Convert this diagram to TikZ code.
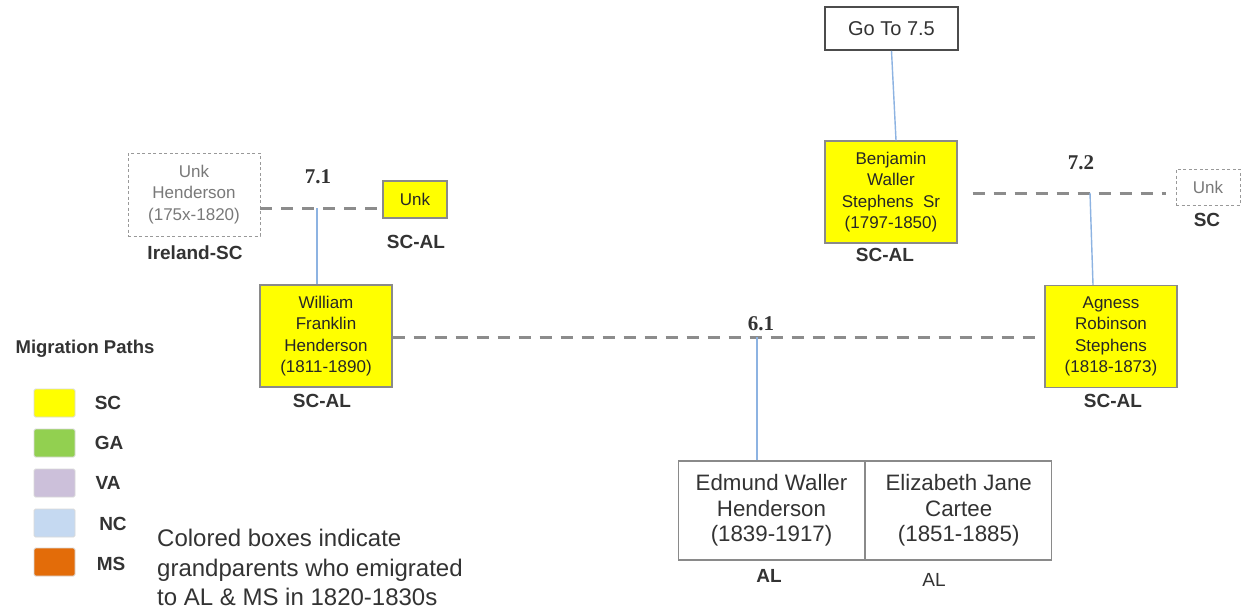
\documentclass[tikz,border=0pt]{standalone}
\usepackage{fontspec}
\setmainfont{Liberation Sans}
\newfontfamily\gennumfont{Liberation Serif}
\usetikzlibrary{positioning}
\definecolor{boxyellow}{HTML}{FFFF00}
\definecolor{boxgray}{HTML}{8A8A8A}
\definecolor{bloodblue}{HTML}{8DB3E2}
\definecolor{uniongray}{HTML}{8C8C8C}
\definecolor{inkgray}{HTML}{333333}
\definecolor{lgga}{HTML}{92D050}
\definecolor{lgva}{HTML}{CCC0DA}
\definecolor{lgnc}{HTML}{C5D9F1}
\definecolor{lgms}{HTML}{E36C09}

\begin{document}
\begin{tikzpicture}[x=1pt,y=-1pt,
      every node/.append style={inner sep=0pt,align=center},
      person/.style={draw=boxgray,line width=1.2pt,fill=boxyellow,text=black!85,
        minimum width=132pt,minimum height=102pt,font=\fontsize{17}{21.3}\selectfont},
      kid/.style={draw=boxgray,line width=1.2pt,text=inkgray,
        minimum width=186pt,minimum height=99pt,font=\fontsize{22.3}{25.5}\selectfont},
      union/.style={draw=uniongray,line width=3pt,dash pattern=on 12pt off 9pt},
      blood/.style={draw=bloodblue,line width=1.4pt}]
    \tikzstyle{ghost} = [draw=gray!80,dash pattern=on 3pt off 2.5pt,line width=0.9pt,
      text=gray!95!black,font=\fontsize{17}{21.5}\selectfont]
    \tikzstyle{migr} = [font=\fontsize{19}{22}\selectfont\bfseries,text=inkgray]
    \tikzstyle{gennum} = [font=\fontsize{21}{22}\selectfont\gennumfont\bfseries,text=inkgray]
    \tikzstyle{swatch} = [draw=gray!30,line width=0.8pt,rounded corners=1.5pt,
      minimum width=41pt,minimum height=28pt]
    \path[use as bounding box,fill=white] (0,0) rectangle (1242,610);

    \node [draw=black!70,line width=1.8pt,minimum width=133pt,minimum height=43pt,
      text=inkgray,font=\fontsize{20}{24}\selectfont] (goto) at (891.5,28.5) {Go To 7.5};
    \node [person] (benj) at (891,192) {Benjamin\\Waller\\Stephens\ \ Sr\\(1797-1850)};
    \node [person] (william) at (326,336) {William\\Franklin\\Henderson\\(1811-1890)};
    \node [person] (agness) at (1111,336.5) {Agness\\Robinson\\Stephens\\(1818-1873)};
    \node [ghost,minimum width=132pt,minimum height=83pt] (unkH) at (194,194.5)
      {Unk\\Henderson\\(175x-1820)};
    \node [person,minimum width=64pt,minimum height=37pt] (unkA) at (415,199.5) {Unk};
    \node [ghost,minimum width=64pt,minimum height=36pt] (unkS) at (1208,187) {Unk};
    \node [kid] (edmund) at (771.5,510.5) {Edmund Waller\\Henderson\\(1839-1917)};
    \node [kid,right=0pt of edmund] (eliz) {Elizabeth Jane\\Cartee\\(1851-1885)};

    \node [migr] (mUnkH) at (195,253) {Ireland-SC};
    \node [migr] (mUnkA) at (416,242) {SC-AL};
    \node [migr] (mWilliam) at (322,401) {SC-AL};
    \node [migr] (mBenj) at (885,255) {SC-AL};
    \node [migr] (mUnkS) at (1207,220) {SC};
    \node [migr] (mAgness) at (1113,401) {SC-AL};
    \node [migr] (mEdmund) at (769,576) {AL};
    \node [font=\fontsize{19}{22}\selectfont,text=inkgray] (mEliz) at (934,580) {AL};

    \coordinate (m71) at (317,208);
    \coordinate (m72) at (1090,193);
    \coordinate (m61) at (757,337);
    \node [gennum] (g71) at (318,177) {7.1};
    \node [gennum] (g72) at (1081,163) {7.2};
    \node [gennum] (g61) at (761,324) {6.1};

    \draw [union] (unkH.east |- m71) -- (unkA.west |- m71);
    \draw [union] ([xshift=15pt]benj.east |- m72) -- ([xshift=-10pt]unkS.west |- m72);
    \draw [union] (william.east |- m61) -- ([xshift=-5pt]agness.west |- m61);
    \draw [blood] (m71) -- (m71 |- william.north);
    \draw [blood] (m72) -- ([xshift=-18pt]agness.north);
    \draw [blood] (goto.south) -- ([xshift=5pt]benj.north);
    \draw [blood] (m61) -- (m61 |- edmund.north);

    \node [font=\fontsize{18.5}{20}\selectfont\bfseries,text=inkgray] (legend) at (85,349)
      {Migration Paths};
    \node [swatch,fill=boxyellow] (swSC) at (54.5,403) {};
    \node [swatch,fill=lgga] (swGA) at (54.5,443) {};
    \node [swatch,fill=lgva] (swVA) at (54.5,483) {};
    \node [swatch,fill=lgnc] (swNC) at (54.5,523) {};
    \node [swatch,fill=lgms] (swMS) at (54.5,562) {};
    \node [migr] (lSC) at (108,403) {SC};
    \node [migr] (lGA) at (109,443) {GA};
    \node [migr] (lVA) at (108,483) {VA};
    \node [migr] (lNC) at (113,524) {NC};
    \node [migr] (lMS) at (111,564) {MS};
    \node [anchor=north west,align=left,text=inkgray,font=\fontsize{24}{29.5}\selectfont]
      (note) at (157,529) {Colored boxes indicate\\grandparents who emigrated\\to AL \& MS in 1820-1830s};
  \end{tikzpicture}
\end{document}
